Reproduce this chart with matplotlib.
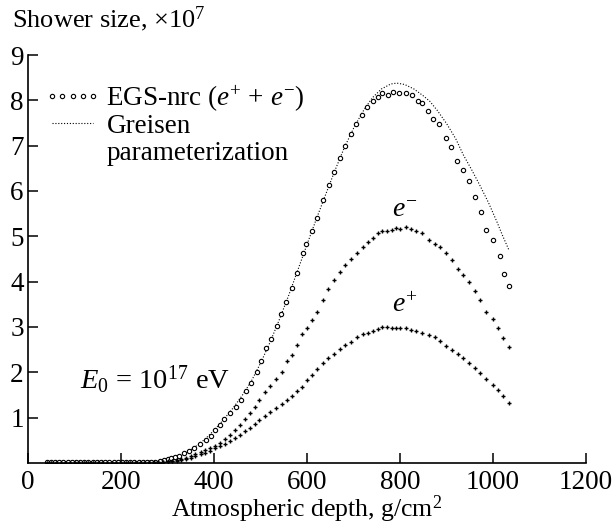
import matplotlib
matplotlib.use("Agg")
import matplotlib.pyplot as plt
from matplotlib.lines import Line2D

plt.rcParams['font.family'] = ['Liberation Serif', 'DejaVu Serif']
plt.rcParams['mathtext.fontset'] = 'custom'
plt.rcParams['mathtext.rm'] = 'Liberation Serif'
plt.rcParams['mathtext.it'] = 'Liberation Serif:italic'

# EGS-nrc total (e+ + e-)
egs_depth = [40, 49, 58, 67, 76, 85, 94, 103, 112, 121, 130, 139, 148, 157, 166, 175, 184, 193,
             202, 211, 220, 229, 238, 247, 256, 265, 274, 283,
             292, 300, 308, 316, 324, 335, 347, 357, 370, 383, 393, 402, 413, 422, 434, 447, 459,
             469, 479, 492, 500, 512, 523, 535, 544, 555, 567, 578, 592, 598, 611, 622, 634, 647,
             658, 670, 682, 694, 706, 718, 730, 742, 752, 761, 775, 786, 798, 812, 826, 839, 847,
             861, 872, 884, 899, 910, 922, 936, 948, 961, 974, 986, 1000, 1015, 1024, 1035]
egs_total = [0.02, 0.02, 0.02, 0.02, 0.02, 0.02, 0.02, 0.02, 0.02, 0.02, 0.02, 0.02, 0.02, 0.02,
             0.02, 0.02, 0.02, 0.02, 0.02, 0.02, 0.02, 0.02, 0.02, 0.02, 0.02, 0.03, 0.03, 0.04,
             0.06, 0.08, 0.10, 0.13, 0.16, 0.21, 0.27, 0.34, 0.43, 0.51, 0.60, 0.73, 0.84, 0.96,
             1.11, 1.23, 1.39, 1.59, 1.77, 2.01, 2.25, 2.53, 2.73, 3.03, 3.29, 3.55, 3.85, 4.20,
             4.63, 4.83, 5.12, 5.41, 5.80, 6.13, 6.43, 6.72, 7.00, 7.25, 7.47, 7.68, 7.86, 7.99,
             8.08, 8.16, 8.12, 8.19, 8.16, 8.16, 8.11, 7.99, 7.95, 7.77, 7.58, 7.47, 7.18, 6.96,
             6.67, 6.46, 6.21, 5.87, 5.54, 5.15, 4.92, 4.57, 4.18, 3.90]

# EGS-nrc electrons and positrons
pm_depth = [40, 50, 60, 70, 80, 90, 100, 110, 120, 130, 140, 150, 160, 170, 180, 190, 200, 210,
            220, 230, 240, 250, 260, 270, 280,
            290, 300, 310, 320, 330, 340, 350, 360, 371, 381, 391, 402, 413, 424, 434, 445, 456,
            467, 477, 488, 497, 510, 520, 533, 546, 556, 567, 578, 589, 600, 611, 622, 635, 646,
            657, 670, 682, 694, 707, 720, 732, 743, 753, 761, 771, 782, 791, 801, 813, 823, 834,
            847, 863, 875, 886, 899, 911, 924, 935, 949, 961, 972, 986, 999, 1011, 1022, 1034]
electrons = [0.01, 0.01, 0.01, 0.01, 0.01, 0.01, 0.01, 0.01, 0.01, 0.01, 0.01, 0.01, 0.01, 0.01,
             0.01, 0.01, 0.01, 0.01, 0.01, 0.01, 0.01, 0.01, 0.02, 0.02, 0.02,
             0.03, 0.04, 0.05, 0.07, 0.09, 0.12, 0.15, 0.19, 0.24, 0.28, 0.32, 0.37, 0.44, 0.52,
             0.62, 0.73, 0.84, 0.98, 1.11, 1.24, 1.39, 1.57, 1.70, 1.85, 2.01, 2.24, 2.38, 2.60,
             2.85, 2.98, 3.15, 3.34, 3.60, 3.83, 4.04, 4.21, 4.37, 4.51, 4.64, 4.76, 4.88, 4.96,
             5.08, 5.12, 5.11, 5.14, 5.18, 5.16, 5.21, 5.16, 5.11, 5.08, 4.93, 4.84, 4.77, 4.63,
             4.48, 4.28, 4.15, 4.00, 3.79, 3.60, 3.34, 3.17, 2.97, 2.75, 2.55]
positrons = [0.01, 0.01, 0.01, 0.01, 0.01, 0.01, 0.01, 0.01, 0.01, 0.01, 0.01, 0.01, 0.01, 0.01,
             0.01, 0.01, 0.01, 0.01, 0.01, 0.01, 0.01, 0.01, 0.01, 0.01, 0.02,
             0.02, 0.03, 0.04, 0.05, 0.07, 0.09, 0.12, 0.15, 0.19, 0.23, 0.27, 0.32, 0.38, 0.43,
             0.48, 0.55, 0.62, 0.70, 0.78, 0.86, 0.94, 1.04, 1.12, 1.21, 1.30, 1.39, 1.48, 1.59,
             1.68, 1.83, 1.94, 2.07, 2.20, 2.31, 2.40, 2.51, 2.60, 2.68, 2.79, 2.84, 2.87, 2.91,
             2.95, 3.01, 3.01, 2.98, 2.98, 2.97, 2.97, 2.93, 2.92, 2.87, 2.82, 2.77, 2.70, 2.57,
             2.49, 2.40, 2.32, 2.20, 2.09, 1.98, 1.85, 1.72, 1.61, 1.48, 1.33]

# Greisen parameterization
greisen_depth = [40, 100, 200, 280, 300, 320, 340, 360, 380, 400, 420, 440, 460, 480, 500, 520,
                 540, 560, 580, 600, 620, 640, 660, 680, 700, 720, 740, 760, 780, 793, 810, 830,
                 850, 864, 880, 900, 920, 936, 954, 972, 990, 1008, 1020, 1035]
greisen_size = [0.0, 0.0, 0.0, 0.01, 0.05, 0.11, 0.22, 0.36, 0.52, 0.72, 0.95, 1.20, 1.48, 1.80,
                2.20, 2.65, 3.15, 3.68, 4.25, 4.82, 5.38, 5.92, 6.45, 6.95, 7.38, 7.75, 8.05,
                8.25, 8.36, 8.38, 8.35, 8.25, 8.10, 7.98, 7.78, 7.49, 7.15, 6.80, 6.47, 6.12,
                5.75, 5.33, 5.03, 4.68]

x_ticks = [0, 200, 400, 600, 800, 1000, 1200]
y_ticks = [1, 2, 3, 4, 5, 6, 7, 8, 9]

FS = 19.5

fig = plt.figure(figsize=(6.13, 5.29), dpi=100)
ax = fig.add_axes([28/613, 1 - 463/529, 558/613, 408/529])

ax.plot(greisen_depth, greisen_size, color='black', lw=0.8, ls=(0, (1, 1.6)))
ax.plot(egs_depth, egs_total, ls='none', marker='o', ms=3.1, mfc='white', mec='black', mew=0.8)
ax.plot(pm_depth, electrons, ls='none', marker='+', ms=3.2, color='black', mew=1.0)
ax.plot(pm_depth, positrons, ls='none', marker='+', ms=3.2, color='black', mew=1.0)

ax.set_xlim(0, 1200)
ax.set_ylim(0, 9)
ax.set_xticks(x_ticks)
ax.set_yticks(y_ticks)
ax.spines['top'].set_visible(False)
ax.spines['right'].set_visible(False)
for s in ('left', 'bottom'):
    ax.spines[s].set_linewidth(1.2)
ax.tick_params(direction='in', length=7, width=1.1, labelsize=FS)
ax.tick_params(axis='y', pad=3)
ax.tick_params(axis='x', pad=5)

ax.set_xlabel('Atmospheric depth, g/cm$^2$', fontsize=18.5, labelpad=-1)
fig.text(12/613, 1 - 19/529, r'Shower size, $\times$10$^7$', fontsize=19, ha='left', va='center')

handles = [Line2D([], [], ls='none', marker='o', ms=3.1, mfc='white', mec='black', mew=0.8),
           Line2D([], [], color='black', lw=0.8, ls=(0, (1, 1.6)))]
labels = [r'EGS-nrc ($e^{+}$ + $e^{-}$)', 'Greisen']
leg = ax.legend(handles, labels, loc='upper left', bbox_to_anchor=(0.029, 0.93), frameon=False,
                numpoints=5, handlelength=2.1, handletextpad=0.2, fontsize=FS,
                labelspacing=0.0, borderaxespad=0, borderpad=0)

fig.canvas.draw()
gt = leg.get_texts()[1]
bb = gt.get_window_extent()
x0, y0 = fig.transFigure.inverted().transform((bb.x0, bb.y0))
fig.text(x0, y0 - 2/529, 'parameterization', fontsize=FS, ha='left', va='top')

ax.text(0.093, 0.205, r'$E_0$ = 10$^{17}$ eV', transform=ax.transAxes, fontsize=20.5,
        ha='left', va='center')
ax.text(0.652, 0.62, r'$e^{-}$', transform=ax.transAxes, fontsize=20, ha='left', va='center')
ax.text(0.652, 0.385, r'$e^{+}$', transform=ax.transAxes, fontsize=20, ha='left', va='center')

fig.savefig('out.png', dpi=100)
